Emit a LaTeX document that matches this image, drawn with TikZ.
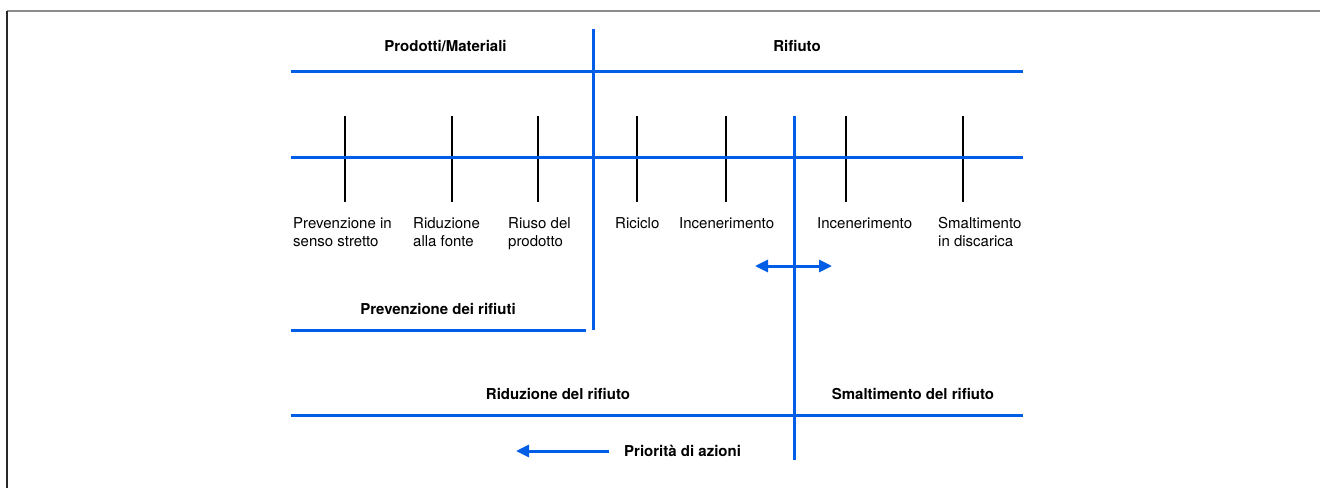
\documentclass[tikz,border=0pt]{standalone}
\usepackage{fontspec}
\setmainfont{TeX Gyre Heros}
\usetikzlibrary{arrows.meta}
\definecolor{lineblue}{RGB}{0,94,230}
\definecolor{framegray}{RGB}{140,140,140}
\definecolor{frameleft}{RGB}{40,40,40}
\tikzset{
  bluerule/.style={draw=lineblue,line width=3pt},
  tickline/.style={draw=black,line width=1.2pt},
  lbl/.style={font=\fontsize{15}{18}\selectfont,inner sep=0pt,anchor=base west,align=left},
  ttl/.style={font=\fontsize{15}{18}\selectfont\bfseries,inner sep=0pt,anchor=base},
  bluearrow/.style={draw=lineblue,line width=3pt,-{Triangle[length=13pt,width=12pt]}},
  bluedarrow/.style={draw=lineblue,line width=3pt,{Triangle[length=13pt,width=12pt]}-{Triangle[length=13pt,width=12pt]}},
}
\begin{document}
\begin{tikzpicture}[x=1pt,y=-1pt]
\useasboundingbox (0,0) rectangle (1320,488);
% frame
\coordinate (fTL) at (7,11);
\coordinate (fTR) at (1320,11);
\coordinate (fBL) at (7,488);
\draw[framegray,line width=2pt] (fTL) -- (fTR);
\draw[frameleft,line width=2pt] (fTL) -- (fBL);
% main horizontal lines
\coordinate (h1L) at (291,71);  \coordinate (h1R) at (1023,71);
\coordinate (h2L) at (291,157); \coordinate (h2R) at (1023,157);
\coordinate (h3L) at (291,330); \coordinate (h3R) at (586,330);
\coordinate (h4L) at (291,415); \coordinate (h4R) at (1023,415);
\coordinate (v1T) at (593,29);  \coordinate (v1B) at (593,330);
\coordinate (v2T) at (794,116); \coordinate (v2B) at (794,460);
% ticks
\foreach \n/\x in {a/345,b/452,c/538,d/637,e/726,f/846,g/963}{
  \coordinate (t\n T) at (\x,116);
  \coordinate (t\n B) at (\x,202);
  \draw[tickline] (t\n T) -- (t\n B);
}
\draw[bluerule] (h1L) -- (h1R);
\draw[bluerule] (h2L) -- (h2R);
\draw[bluerule] (h3L) -- (h3R);
\draw[bluerule] (h4L) -- (h4R);
\draw[bluerule] (v1T) -- (v1B);
\draw[bluerule] (v2T) -- (v2B);
% titles
\node[ttl] (prod) at (445.5,51) {Prodotti/Materiali};
\node[ttl] (rif) at (797,51) {Rifiuto};
\node[ttl] (prev) at (438,314) {Prevenzione dei rifiuti};
\node[ttl] (ridu) at (558,399) {Riduzione del rifiuto};
\node[ttl] (smal) at (913,399) {Smaltimento del rifiuto};
\node[ttl,anchor=base west] (prio) at (624,456) {Priorità di azioni};
% labels (two-line labels: base = last line)
\node[lbl] (l1) at (293,246) {Prevenzione in\\senso stretto};
\node[lbl] (l2) at (413,246) {Riduzione\\alla fonte};
\node[lbl] (l3) at (508,246) {Riuso del\\prodotto};
\node[lbl] (l4) at (615,228) {Riciclo};
\node[lbl] (l5) at (679,228) {Incenerimento};
\node[lbl] (l6) at (817,228) {Incenerimento};
\node[lbl] (l7) at (938,246) {Smaltimento\\in discarica};
% arrows
\coordinate (daL) at (755,266); \coordinate (daR) at (832,266);
\draw[bluedarrow] (daL) -- (daR);
\coordinate (paS) at (609,451); \coordinate (paE) at (516,451);
\draw[bluearrow] (paS) -- (paE);
\end{tikzpicture}
\end{document}
